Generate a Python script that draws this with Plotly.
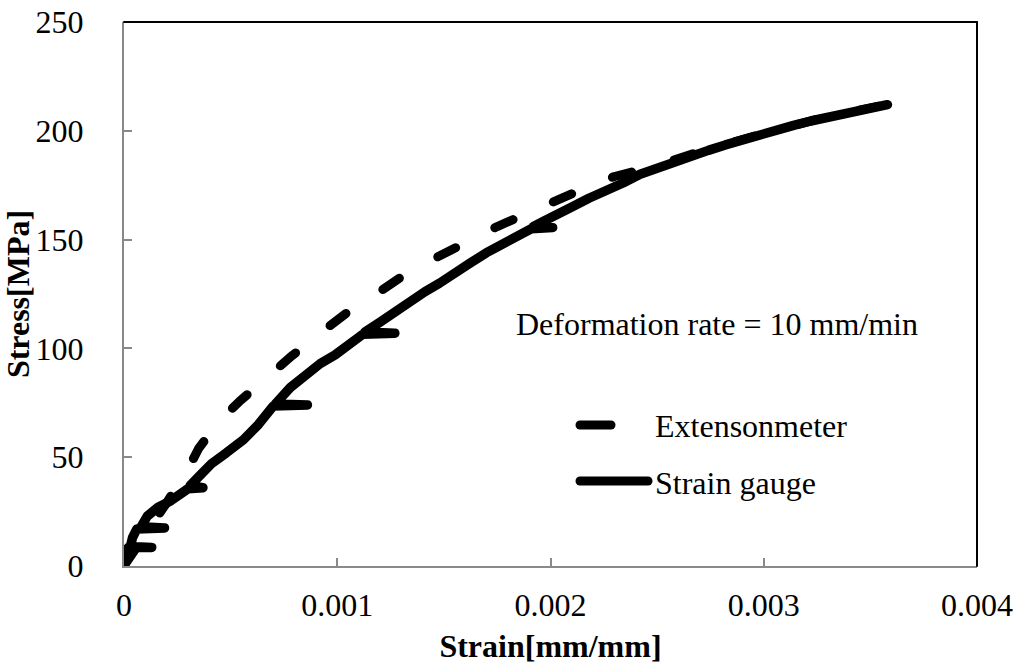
import plotly.graph_objects as go

# Strain gauge readings (strain in mm/mm, stress in MPa)
gauge_strain = [0, 0.00001, 0.00002, 0.00013, 0.00003, 0.00004, 0.00006, 0.00019, 0.00008,
                0.00011, 0.00016, 0.00022, 0.00027, 0.00030, 0.00037, 0.00031, 0.00036,
                0.00041, 0.00048, 0.00056, 0.00063, 0.00070, 0.00086, 0.00071, 0.00078,
                0.00085, 0.00092, 0.00099, 0.00106, 0.00112, 0.00127, 0.00113, 0.00120,
                0.00127, 0.00134, 0.00141, 0.00148, 0.00155, 0.00162, 0.00170, 0.00178,
                0.00185, 0.00191, 0.00201, 0.00192, 0.00197, 0.00203, 0.00210, 0.00218,
                0.00226, 0.00234, 0.00242, 0.00250, 0.00258, 0.00266, 0.00274, 0.00282,
                0.00290, 0.00298, 0.00306, 0.00314, 0.00322, 0.00330, 0.00338, 0.00346,
                0.00352, 0.00358]
gauge_stress = [0, 5, 8.5, 8.5, 9, 13, 17, 17.5, 18,
                23, 27, 30, 33, 35.5, 36, 37, 42,
                47, 52, 58, 65, 73.5, 74, 74.5, 82,
                88, 93, 97, 102, 106.5, 107, 107.5, 112,
                117, 121, 126, 130, 134, 139, 144, 148,
                152, 155, 155.5, 156, 158.5, 162, 165, 169,
                172, 176, 180, 183, 185.5, 188.5, 191, 193.5,
                196, 198.5, 200.5, 202.5, 204.5, 206, 207.5, 209,
                210.5, 212]

# Extensometer readings
ext_strain = [0, 0.00005, 0.00010, 0.00015, 0.00020, 0.00025, 0.00030, 0.00035, 0.00045,
              0.00054, 0.00067, 0.00078, 0.00092, 0.00104, 0.00119, 0.00131, 0.00147,
              0.00159, 0.00175, 0.00189, 0.00205, 0.00218, 0.00230, 0.00250, 0.00270,
              0.00290, 0.00310, 0.00330, 0.00350, 0.00360]
ext_stress = [0, 7, 14, 21, 29, 37, 44.5, 54, 67,
              75.5, 87, 96, 107, 116, 125.5, 133.5, 142,
              148.5, 156, 162, 169.5, 174.5, 179, 184, 190.5,
              196.5, 201.5, 206.5, 210.5, 212.5]

x_ticks = [0, 0.001, 0.002, 0.003, 0.004]
x_tick_text = ["0", "0.001", "0.002", "0.003", "0.004"]
y_ticks = [0, 50, 100, 150, 200, 250]

FONT = "Times New Roman, Liberation Serif, serif"
FS = 32
GRAY = "#898989"

fig = go.Figure()
fig.add_trace(go.Scatter(x=ext_strain, y=ext_stress, mode="lines", name="Extensonmeter",
                         line=dict(color="black", width=9, dash="20px,44px"),
                         showlegend=False))
fig.add_trace(go.Scatter(x=gauge_strain, y=gauge_stress, mode="lines", name="Strain gauge",
                         line=dict(color="black", width=9.5), showlegend=False))

# frame: top and right edges drawn black
fig.add_shape(type="line", xref="paper", yref="paper", x0=0, x1=1, y0=1, y1=1,
              line=dict(color="black", width=2))
fig.add_shape(type="line", xref="paper", yref="paper", x0=1, x1=1, y0=0, y1=1,
              line=dict(color="black", width=2))

# legend samples
W, H = 853.0, 544.0
def px(xp):
    return (xp - 124) / W
def py(yp):
    return (566 - yp) / H

fig.add_shape(type="line", xref="paper", yref="paper", x0=px(580), x1=px(611),
              y0=py(425), y1=py(425), line=dict(color="black", width=9))
fig.add_shape(type="line", xref="paper", yref="paper", x0=px(580), x1=px(648),
              y0=py(481), y1=py(481), line=dict(color="black", width=9))

fig.add_annotation(xref="paper", yref="paper", x=px(653), y=py(426), text="Extensonmeter",
                   showarrow=False, xanchor="left", yanchor="middle",
                   font=dict(family=FONT, size=FS, color="black"))
fig.add_annotation(xref="paper", yref="paper", x=px(653), y=py(483), text="Strain gauge",
                   showarrow=False, xanchor="left", yanchor="middle",
                   font=dict(family=FONT, size=FS, color="black"))
fig.add_annotation(xref="paper", yref="paper", x=px(514), y=py(324),
                   text="Deformation rate = 10 mm/min",
                   showarrow=False, xanchor="left", yanchor="middle",
                   font=dict(family=FONT, size=FS, color="black"))

fig.update_layout(
    width=1014, height=664,
    margin=dict(l=124, r=37, t=22, b=98),
    paper_bgcolor="white", plot_bgcolor="white",
    font=dict(family=FONT, size=FS, color="black"),
    xaxis=dict(range=[0, 0.004], tickvals=x_ticks, ticktext=x_tick_text, automargin=False,
               showgrid=False, zeroline=False, showline=True, linecolor=GRAY, linewidth=2,
               ticks="inside", ticklen=8, tickwidth=2, tickcolor=GRAY,
               ticklabelstandoff=10,
               title=dict(text="<b>Strain[mm/mm]</b>", standoff=21,
                          font=dict(family=FONT, size=FS))),
    yaxis=dict(range=[0, 250], tickvals=y_ticks, automargin=False,
               showgrid=False, zeroline=False, showline=True, linecolor=GRAY, linewidth=2,
               ticks="inside", ticklen=8, tickwidth=2, tickcolor=GRAY,
               ticklabelstandoff=32,
               title=dict(text="<b>Stress[MPa]</b>", standoff=4,
                          font=dict(family=FONT, size=FS))),
)

round_caps = """
document.querySelectorAll('.scatterlayer path.js-line, .shapelayer path').forEach(function(p){
  p.style.strokeLinecap = 'round';
  p.style.strokeLinejoin = 'round';
});
"""
fig.write_html("out.html", post_script=round_caps, config={"responsive": False})
